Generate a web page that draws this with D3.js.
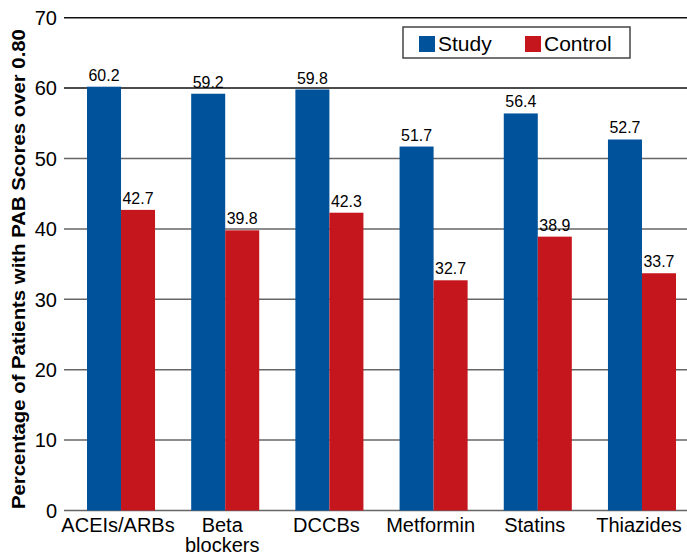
<!DOCTYPE html>
<html><head><meta charset="utf-8">
<script src="https://cdn.jsdelivr.net/npm/d3@7"></script>
<style>body{margin:0;background:#fff}svg{display:block}text{font-family:"Liberation Sans",Arial,Helvetica,sans-serif}</style>
</head><body>
<svg id="c" width="687" height="555"></svg>
<script>
const categories = ["ACEIs/ARBs", "Beta blockers", "DCCBs", "Metformin", "Statins", "Thiazides"];
const studyValues = [60.2, 59.2, 59.8, 51.7, 56.4, 52.7];
const controlValues = [42.7, 39.8, 42.3, 32.7, 38.9, 33.7];
const seriesNames = ["Study", "Control"];
const seriesColors = ["#00529b", "#c4161c"];
const yTicks = [0, 10, 20, 30, 40, 50, 60, 70];

const svg = d3.select("#c");
const plotLeft = 62, plotRight = 687;
const y = d3.scaleLinear().domain([0, 70]).range([510.5, 17.7]);
const x = d3.scaleBand().domain(categories).range([87, 676]).paddingInner(0.347).paddingOuter(0);
const xs = d3.scaleBand().domain(seriesNames).range([0, x.bandwidth()]);

// gridlines
svg.append("g").selectAll("line").data(yTicks).join("line")
  .attr("x1", plotLeft + 2).attr("x2", plotRight)
  .attr("y1", d => y(d)).attr("y2", d => y(d))
  .attr("stroke", d => d >= 60 ? "#111" : "#666").attr("stroke-width", 1.5);

// y tick labels
svg.append("g").selectAll("text").data(yTicks).join("text")
  .attr("x", 57).attr("y", d => y(d)).attr("dy", "0.36em")
  .attr("text-anchor", "end").attr("font-size", 20).attr("fill", "#000")
  .text(d => d);

// y title
svg.append("text")
  .attr("transform", `translate(25,${(y(0) + y(70)) / 2 + 5}) rotate(-90)`)
  .attr("text-anchor", "middle").attr("font-size", 19).attr("font-weight", "bold").attr("fill", "#000")
  .attr("textLength", 480).attr("lengthAdjust", "spacingAndGlyphs")
  .text("Percentage of Patients with PAB Scores over 0.80");

const rows = categories.map((c, i) => ({c, vals: [studyValues[i], controlValues[i]]}));
const g = svg.append("g").selectAll("g").data(rows).join("g")
  .attr("transform", d => `translate(${x(d.c)},0)`);
const bars = d => d.vals.map((v, j) => ({s: seriesNames[j], v, j}));
g.selectAll("rect").data(bars).join("rect")
  .attr("x", d => xs(d.s)).attr("width", xs.bandwidth())
  .attr("y", d => y(d.v)).attr("height", d => y(0) - y(d.v))
  .attr("fill", d => seriesColors[d.j]);
g.selectAll("text.val").data(bars).join("text").attr("class", "val")
  .attr("x", d => xs(d.s) + xs.bandwidth() / 2).attr("y", d => y(d.v) - 6)
  .attr("text-anchor", "middle").attr("font-size", 16).attr("fill", "#000")
  .attr("textLength", 31).attr("lengthAdjust", "spacingAndGlyphs")
  .text(d => d.v.toFixed(1));

// x labels
g.each(function(d) {
  const words = d.c === "Beta blockers" ? ["Beta", "blockers"] : [d.c];
  const t = d3.select(this).append("text").attr("text-anchor", "middle")
    .attr("font-size", 20).attr("fill", "#000");
  words.forEach((w, k) => t.append("tspan").attr("x", x.bandwidth() / 2 - 3)
    .attr("y", 532 + k * 20).text(w));
});

// legend
const lg = svg.append("g");
lg.append("rect").attr("x", 403).attr("y", 27).attr("width", 227).attr("height", 31)
  .attr("fill", "#fff").attr("stroke", "#444").attr("stroke-width", 1.5);
const lx = [419, 525];
seriesNames.forEach((s, i) => {
  lg.append("rect").attr("x", lx[i]).attr("y", 36).attr("width", 16).attr("height", 16).attr("fill", seriesColors[i]);
  lg.append("text").attr("x", lx[i] + 19).attr("y", 51).attr("font-size", 21).attr("fill", "#000").text(s);
});
</script>
</body></html>
